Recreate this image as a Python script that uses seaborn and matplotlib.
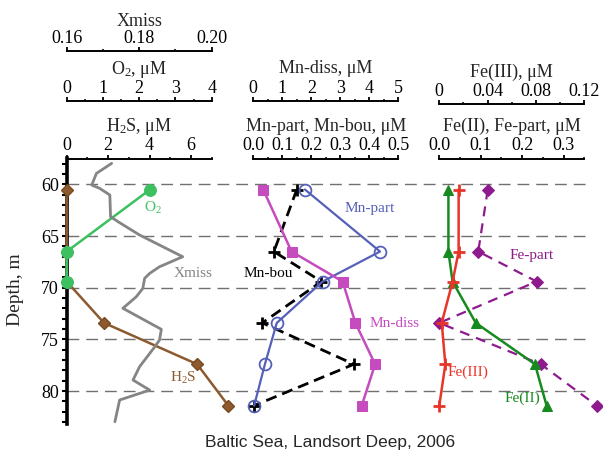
import matplotlib
matplotlib.use("Agg")
import matplotlib.pyplot as plt
from matplotlib.ticker import FixedLocator
import pandas as pd
import seaborn as sns

# ---- sample depths (m) ----
depth = [60.5, 66.5, 69.4, 73.4, 77.4, 81.4]

# ---- panel 1: O2, H2S, Xmiss ----
o2 = [2.3, 0.0, 0.0]
h2s = [0.0, 0.0, 0.0, 1.8, 6.3, 7.8]
xmiss_depth = [57.97, 58.94, 60.07, 60.39, 61.03, 63.13, 63.62, 64.90, 65.87,
               67.00, 67.97, 68.61, 69.09, 70.06, 70.87, 71.99, 74.02, 75.06,
               75.71, 77.64, 78.93, 79.90, 80.86, 82.96]
xmiss = [0.1724, 0.1682, 0.1669, 0.1691, 0.1719, 0.1721, 0.1742, 0.1801, 0.1856,
         0.1920, 0.1856, 0.1829, 0.1815, 0.1810, 0.1792, 0.1755, 0.1861, 0.1856,
         0.1843, 0.1801, 0.1783, 0.1829, 0.1746, 0.1733]

# ---- panel 2: manganese ----
mn_diss = [0.34, 1.32, 3.08, 3.52, 4.20, 3.74]
mn_part = [0.178, 0.437, 0.239, 0.081, 0.040, 0.003]
mn_bou = [0.150, 0.071, 0.235, 0.031, 0.347, 0.003]

# ---- panel 3: iron ----
fe3 = [0.016, 0.016, 0.011, 0.002, 0.005, 0.0]
fe2 = [0.022, 0.022, 0.032, 0.088, 0.231, 0.259]
fe_part = [0.117, 0.094, 0.235, 0.0, 0.245, 0.380]

# ---- axis ticks ----
depth_ticks = [60, 65, 70, 75, 80]
xmiss_ticks = [0.16, 0.18, 0.20]
xmiss_labels = ["0.16", "0.18", "0.20"]
o2_ticks = [0, 1, 2, 3, 4]
o2_labels = ["0", "1", "2", "3", "4"]
h2s_ticks = [0, 2, 4, 6]
h2s_labels = ["0", "2", "4", "6"]
mnd_ticks = [0, 1, 2, 3, 4, 5]
mnd_labels = ["0", "1", "2", "3", "4", "5"]
mnp_ticks = [0.0, 0.1, 0.2, 0.3, 0.4, 0.5]
mnp_labels = ["0.0", "0.1", "0.2", "0.3", "0.4", "0.5"]
fe3_ticks = [0.0, 0.04, 0.08, 0.12]
fe3_labels = ["0", "0.04", "0.08", "0.12"]
fe2_ticks = [0.0, 0.1, 0.2, 0.3]
fe2_labels = ["0.0", "0.1", "0.2", "0.3"]

sns.set_theme(style="white")
plt.rcParams["font.family"] = ["Liberation Serif", "DejaVu Serif"]
plt.rcParams["mathtext.fontset"] = "custom"
plt.rcParams["mathtext.rm"] = "Liberation Serif"
plt.rcParams["mathtext.it"] = "Liberation Serif:italic"
plt.rcParams["mathtext.default"] = "regular"

W, H = 603, 458
fig = plt.figure(figsize=(W / 100, H / 100), dpi=100)

TOP, BOT = 158.5, 424.2
YLIM = (83.2, 57.5)
PT = 100 / 72.0


def rect(x0, x1):
    return [x0 / W, 1 - BOT / H, (x1 - x0) / W, (BOT - TOP) / H]


# background axes holding the dashed depth guides
bg = fig.add_axes(rect(66.7, 592))
bg.set_ylim(*YLIM)
bg.set_xlim(0, 1)
bg.axis("off")
for d in depth_ticks:
    bg.axhline(d, color="#707070", lw=1.0, ls=(0, (8.5, 5)), zorder=0)

TS = 13


def style_top(ax, lim, ticks, labels, minor, title, offset=None):
    ax.set_facecolor("none")
    ax.patch.set_visible(False)
    ax.set_xlim(*lim)
    ax.xaxis.set_ticks_position("top")
    ax.xaxis.set_label_position("top")
    ax.set_xticks(ticks, labels)
    ax.xaxis.set_minor_locator(FixedLocator(minor))
    ax.set_xlabel(title, fontsize=TS, labelpad=4.5)
    for s in ["right", "bottom", "left"]:
        ax.spines[s].set_visible(False)
    ax.spines["top"].set_linewidth(1.4)
    ax.spines["top"].set_color("black")
    if offset is not None:
        ax.spines["top"].set_position(("outward", offset))
    ax.tick_params(axis="x", which="major", direction="out", length=3, width=1.3,
                   pad=0, labelsize=TS, colors="black", top=True, bottom=False)
    ax.tick_params(axis="x", which="minor", direction="out", length=1.6, width=1.3,
                   top=True, bottom=False)
    ax.grid(False)


def off_y(ax):
    ax.set_ylim(*YLIM)
    ax.set_ylabel("")
    ax.tick_params(axis="y", which="both", left=False, right=False,
                   labelleft=False, labelright=False)


def profile(ax, x, y, **kw):
    df = pd.DataFrame({"v": x, "depth": y})
    sns.lineplot(data=df, x="v", y="depth", orient="y", estimator=None,
                 sort=False, ax=ax, clip_on=False, **kw)


# ---------------- panel 1 ----------------
ax1 = fig.add_axes(rect(66.7, 211.7))
ax1o = ax1.twiny()
ax1x = ax1.twiny()

profile(ax1x, xmiss, xmiss_depth, color="#858585", lw=2.0, zorder=2)
profile(ax1, h2s, depth, color="#8c5a2e", lw=1.8, marker="D", markersize=6,
        markeredgecolor="#7a4a20", markeredgewidth=1.0, zorder=3)
profile(ax1o, o2, depth[:3], color="#3cc060", lw=1.8, marker="o", markersize=8.5,
        markeredgecolor="#3cc060", zorder=4)

style_top(ax1, (0, 7), h2s_ticks, h2s_labels, [1, 3, 5, 7], "H$_2$S, μM")
style_top(ax1o, (0, 4), o2_ticks, o2_labels, [0.5, 1.5, 2.5, 3.5], "O$_2$, μM",
          offset=(TOP - 101) / PT)
style_top(ax1x, (0.16, 0.20), xmiss_ticks, xmiss_labels, [0.17, 0.19], "Xmiss",
          offset=(TOP - 50.7) / PT)
ax1x.xaxis.labelpad = 2.5

ax1.spines["left"].set_visible(True)
ax1.spines["left"].set_linewidth(2.6)
ax1.spines["left"].set_color("black")
ax1.set_ylim(*YLIM)
ax1.set_yticks(depth_ticks, [str(d) for d in depth_ticks])
ax1.yaxis.set_minor_locator(FixedLocator(list(range(58, 84))))
ax1.tick_params(axis="y", which="both", direction="out", length=3.5, width=1.5,
                left=True, right=False, labelsize=TS, pad=2, colors="black")
ax1.set_ylabel("")
for a in (ax1o, ax1x):
    off_y(a)

ax1o.text(2.39, 62.3, "O$_2$", color="#3cc060", fontsize=11, ha="center", va="center")
ax1x.text(0.1948, 68.6, "Xmiss", color="#858585", fontsize=11, ha="center", va="center")
ax1.text(5.63, 78.7, "H$_2$S", color="#8c5a2e", fontsize=11, ha="center", va="center")

# ---------------- panel 2 ----------------
ax2 = fig.add_axes(rect(253.3, 398.3))
ax2d = ax2.twiny()

profile(ax2d, mn_diss, depth, color="#c54bbf", lw=1.8, marker="s", markersize=6.5,
        markeredgecolor="#c54bbf", zorder=3)
profile(ax2, mn_bou, depth, color="black", lw=2.0, ls=(0, (4, 2.2)), marker="+",
        markersize=9, markeredgewidth=2.0, markeredgecolor="black", zorder=4)
profile(ax2, mn_part, depth, color="#5560b8", lw=1.6, marker="o", markersize=8.5,
        markerfacecolor="none", markeredgecolor="#5560b8", markeredgewidth=1.3,
        zorder=5)

style_top(ax2, (0, 0.5), mnp_ticks, mnp_labels,
          [0.05, 0.15, 0.25, 0.35, 0.45], "Mn-part, Mn-bou, μM")
style_top(ax2d, (0, 5), mnd_ticks, mnd_labels, [0.5, 1.5, 2.5, 3.5, 4.5],
          "Mn-diss, μM", offset=(TOP - 100.7) / PT)
off_y(ax2)
off_y(ax2d)

ax2.text(0.40, 62.3, "Mn-part", color="#5560b8", fontsize=11, ha="center", va="center")
ax2.text(0.052, 68.6, "Mn-bou", color="black", fontsize=11, ha="center", va="center")
ax2d.text(4.86, 73.5, "Mn-diss", color="#c54bbf", fontsize=11, ha="center", va="center")

# ---------------- panel 3 ----------------
ax3 = fig.add_axes(rect(439.3, 584.3))
ax3t = ax3.twiny()

profile(ax3, fe_part, depth, color="#8e1b8e", lw=1.6, ls=(0, (4.5, 3.2)), marker="D",
        markersize=6.5, markeredgecolor="#8e1b8e", zorder=3)
profile(ax3, fe2, depth, color="#178a1f", lw=1.8, marker="^", markersize=7,
        markeredgecolor="#178a1f", zorder=4)
profile(ax3t, fe3, depth, color="#e8352a", lw=1.8, marker="+", markersize=9,
        markeredgewidth=2.0, markeredgecolor="#e8352a", zorder=5)

style_top(ax3, (0, 0.35), fe2_ticks, fe2_labels, [0.05, 0.15, 0.25, 0.35],
          "Fe(II), Fe-part, μM")
style_top(ax3t, (0, 0.12), fe3_ticks, fe3_labels, [0.02, 0.06, 0.10],
          "Fe(III), μM", offset=(TOP - 104) / PT)
off_y(ax3)
off_y(ax3t)

ax3.text(0.223, 66.9, "Fe-part", color="#8e1b8e", fontsize=11, ha="center", va="center")
ax3.text(0.070, 78.2, "Fe(III)", color="#e8352a", fontsize=11, ha="center", va="center")
ax3.text(0.200, 80.7, "Fe(II)", color="#178a1f", fontsize=11, ha="center", va="center")

# ---------------- labels ----------------
fig.text(16 / W, 1 - 290 / H, "Depth, m", rotation=90, fontsize=14,
         ha="center", va="center")
fig.text(330 / W, 1 - 442 / H, "Baltic Sea, Landsort Deep, 2006",
         family=["Liberation Sans", "DejaVu Sans"], fontsize=12.5,
         ha="center", va="center")

fig.savefig("out.png", dpi=100)
